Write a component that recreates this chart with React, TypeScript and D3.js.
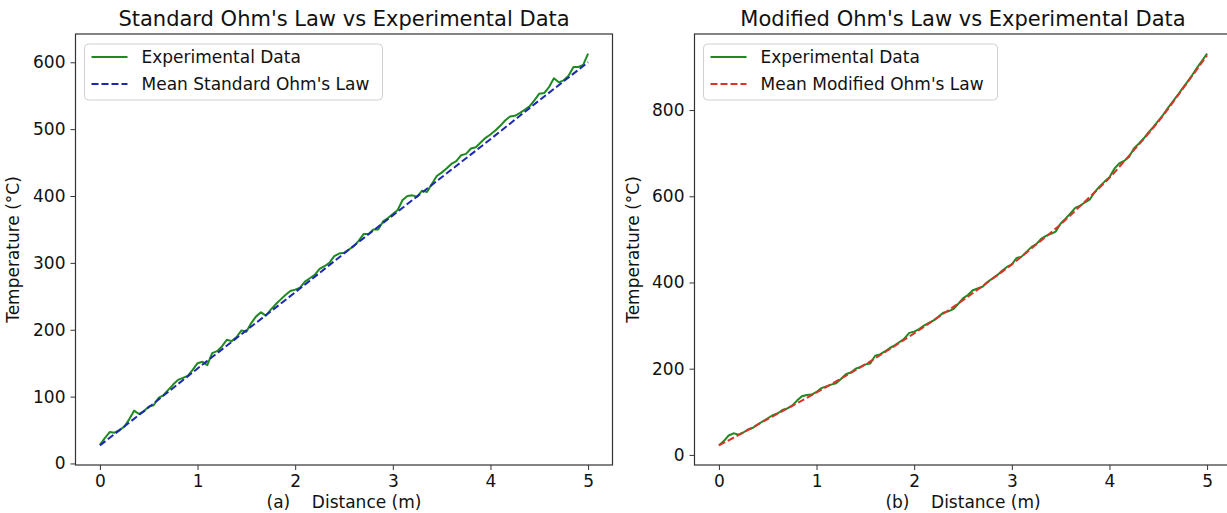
import { useEffect, useRef } from 'react';
import * as d3 from 'd3';

// distance samples (m) of the measured profile
const distances = [
  0, 0.05, 0.1, 0.15, 0.2, 0.25, 0.3, 0.35, 0.4, 0.45,
  0.5, 0.55, 0.6, 0.65, 0.7, 0.75, 0.8, 0.85, 0.9, 0.95,
  1, 1.05, 1.1, 1.15, 1.2, 1.25, 1.3, 1.35, 1.4, 1.45,
  1.5, 1.55, 1.6, 1.65, 1.7, 1.75, 1.8, 1.85, 1.9, 1.95,
  2, 2.05, 2.1, 2.15, 2.2, 2.25, 2.3, 2.35, 2.4, 2.45,
  2.5, 2.55, 2.6, 2.65, 2.7, 2.75, 2.8, 2.85, 2.9, 2.95,
  3, 3.05, 3.1, 3.15, 3.2, 3.25, 3.3, 3.35, 3.4, 3.45,
  3.5, 3.55, 3.6, 3.65, 3.7, 3.75, 3.8, 3.85, 3.9, 3.95,
  4, 4.05, 4.1, 4.15, 4.2, 4.25, 4.3, 4.35, 4.4, 4.45,
  4.5, 4.55, 4.6, 4.65, 4.7, 4.75, 4.8, 4.85, 4.9, 4.95,
  5,
];

const experimentalStandard = [
  28, 38, 47, 46, 50, 55, 66, 79, 74, 78,
  85, 87, 98, 102, 110, 118, 125, 128, 131, 140,
  150, 152, 147, 165, 168, 175, 185, 183, 189, 199,
  197, 210, 220, 226, 221, 230, 238, 245, 252, 258,
  260, 263, 272, 277, 282, 291, 295, 300, 310, 314,
  315, 320, 325, 333, 343, 343, 350, 350, 362, 367,
  373, 379, 394, 400, 401, 399, 408, 406, 418, 430,
  435, 441, 448, 452, 461, 463, 471, 473, 480, 487,
  492, 498, 505, 513, 519, 520, 524, 529, 534, 543,
  553, 554, 563, 576, 570, 573, 580, 593, 593, 596,
  613,
];

const experimentalModified = [
  22, 32, 45, 50, 47, 52, 59, 63, 71, 78,
  85, 92, 96, 104, 108, 114, 126, 136, 139, 140,
  146, 155, 159, 163, 166, 176, 187, 191, 200, 204,
  210, 212, 230, 233, 240, 248, 254, 262, 270, 283,
  286, 292, 300, 306, 312, 321, 330, 333, 338, 350,
  363, 371, 382, 386, 390, 401, 409, 417, 427, 436,
  442, 457, 460, 471, 482, 489, 501, 508, 513, 518,
  537, 548, 560, 573, 578, 586, 593, 610, 623, 634,
  644, 664, 676, 682, 691, 711, 722, 734, 748, 761,
  775, 789, 805, 820, 835, 851, 866, 882, 899, 915,
  931,
];

const meanDistancesStandard = [0, 0.5, 1, 1.5, 2, 2.5, 3, 3.5, 4, 4.5, 5];
const meanStandard = [27, 84, 142, 199, 256, 314, 371, 428, 485, 543, 600];

const meanDistancesModified = [
  0, 0.25, 0.5, 0.75, 1, 1.25, 1.5, 1.75, 2, 2.25, 2.5,
  2.75, 3, 3.25, 3.5, 3.75, 4, 4.25, 4.5, 4.75, 5,
];
const meanModified = [
  22, 52, 83, 113.5, 145, 177, 210, 245.5, 282, 320, 359,
  400, 442, 488, 535, 588, 643, 707, 773, 849, 927,
];

const xTicks = [0, 1, 2, 3, 4, 5];
const yTicksStandard = [0, 100, 200, 300, 400, 500, 600];
const yTicksModified = [0, 200, 400, 600, 800];

const FONT = '"DejaVu Sans", sans-serif';
const GREEN = '#1f8a1f';
const BLUE = '#1c28b0';
const RED = '#d9342b';
const FRAME = '#333';

function drawPanel(svg, cfg) {
  const { left, right, top, bottom } = cfg.box;

  // matplotlib-like 5% margins around the data
  const xs = [...distances, ...cfg.meanX];
  const ys = [...cfg.exp, ...cfg.mean];
  const [x0, x1] = d3.extent(xs);
  const [y0, y1] = d3.extent(ys);
  const mx = (x1 - x0) * 0.05;
  const my = (y1 - y0) * 0.05;
  const x = d3.scaleLinear().domain([x0 - mx, x1 + mx]).range([left, right]);
  const y = d3.scaleLinear().domain([y0 - my, y1 + my]).range([bottom, top]);

  const g = svg.append('g');

  // lines
  const line = d3.line().x((d) => x(d[0])).y((d) => y(d[1]));
  g.append('path')
    .datum(distances.map((d, i) => [d, cfg.exp[i]]))
    .attr('d', line)
    .attr('fill', 'none')
    .attr('stroke', GREEN)
    .attr('stroke-width', 2)
    .attr('stroke-linejoin', 'round');

  g.append('path')
    .datum(cfg.meanX.map((d, i) => [d, cfg.mean[i]]))
    .attr('d', line.curve(d3.curveMonotoneX))
    .attr('fill', 'none')
    .attr('stroke', cfg.meanColor)
    .attr('stroke-width', 2)
    .attr('stroke-dasharray', '7,3');

  // axes
  const xAxis = g.append('g')
    .attr('transform', `translate(0,${bottom})`)
    .call(d3.axisBottom(x).tickValues(xTicks).tickSize(5).tickPadding(5).tickFormat(d3.format('d')));
  const yAxis = g.append('g')
    .attr('transform', `translate(${left},0)`)
    .call(d3.axisLeft(y).tickValues(cfg.yTicks).tickSize(5).tickPadding(5).tickFormat(d3.format('d')));
  [xAxis, yAxis].forEach((a) => {
    a.select('.domain').remove();
    a.selectAll('line').attr('stroke', FRAME);
    a.selectAll('text').attr('font-family', FONT).attr('font-size', 17).attr('fill', '#111');
  });

  // frame
  g.append('rect')
    .attr('x', left)
    .attr('y', top)
    .attr('width', right - left)
    .attr('height', bottom - top)
    .attr('fill', 'none')
    .attr('stroke', FRAME)
    .attr('stroke-width', 1.2);

  // title + labels
  const cx = (left + right) / 2;
  g.append('text')
    .attr('x', cx)
    .attr('y', top - 8)
    .attr('text-anchor', 'middle')
    .attr('font-family', FONT)
    .attr('font-size', 21)
    .attr('fill', '#111')
    .text(cfg.title);

  g.append('text')
    .attr('x', cx)
    .attr('y', bottom + 43)
    .attr('text-anchor', 'middle')
    .attr('font-family', FONT)
    .attr('font-size', 17)
    .attr('fill', '#111')
    .style('white-space', 'pre')
    .text(cfg.xLabel);

  g.append('text')
    .attr('transform', `translate(${cfg.yLabelX},${(top + bottom) / 2}) rotate(-90)`)
    .attr('text-anchor', 'middle')
    .attr('font-family', FONT)
    .attr('font-size', 17)
    .attr('fill', '#111')
    .text('Temperature (°C)');

  // legend
  const lx = left + 9;
  const ly = top + 10;
  const legend = g.append('g').attr('transform', `translate(${lx},${ly})`);
  legend.append('rect')
    .attr('width', cfg.legendWidth)
    .attr('height', 56)
    .attr('rx', 4)
    .attr('fill', 'white')
    .attr('fill-opacity', 0.85)
    .attr('stroke', '#d0d0d0');

  const items = [
    { label: 'Experimental Data', color: GREEN, dash: null },
    { label: cfg.meanLabel, color: cfg.meanColor, dash: '7,3' },
  ];
  items.forEach((item, i) => {
    const row = legend.append('g').attr('transform', `translate(0,${13 + i * 27})`);
    row.append('line')
      .attr('x1', 7)
      .attr('x2', 43)
      .attr('stroke', item.color)
      .attr('stroke-width', 2)
      .attr('stroke-dasharray', item.dash);
    row.append('text')
      .attr('x', 57)
      .attr('y', 6)
      .attr('font-family', FONT)
      .attr('font-size', 17)
      .attr('fill', '#111')
      .text(item.label);
  });
}

export default function App() {
  const svgRef = useRef(null);

  useEffect(() => {
    const svg = d3.select(svgRef.current);
    svg.selectAll('*').remove();

    drawPanel(svg, {
      box: { left: 75.5, right: 612.5, top: 34, bottom: 465 },
      exp: experimentalStandard,
      meanX: meanDistancesStandard,
      mean: meanStandard,
      meanColor: BLUE,
      meanLabel: "Mean Standard Ohm's Law",
      yTicks: yTicksStandard,
      title: "Standard Ohm's Law vs Experimental Data",
      xLabel: '(a)    Distance (m)',
      yLabelX: 19,
      legendWidth: 298,
    });

    drawPanel(svg, {
      box: { left: 694.5, right: 1231.5, top: 34, bottom: 465 },
      exp: experimentalModified,
      meanX: meanDistancesModified,
      mean: meanModified,
      meanColor: RED,
      meanLabel: "Mean Modified Ohm's Law",
      yTicks: yTicksModified,
      title: "Modified Ohm's Law vs Experimental Data",
      xLabel: '(b)    Distance (m)',
      yLabelX: 639,
      legendWidth: 294,
    });

    return () => {
      svg.selectAll('*').remove();
    };
  }, []);

  return (
    <svg
      ref={svgRef}
      width={1227}
      height={513}
      style={{ position: 'absolute', left: 0, top: 0, background: 'white', display: 'block' }}
    />
  );
}
